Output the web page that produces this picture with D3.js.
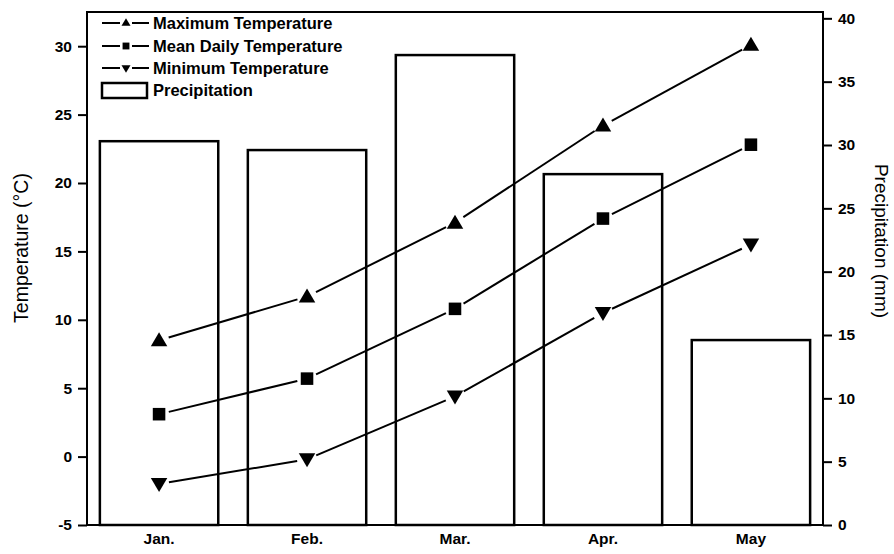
<!DOCTYPE html>
<html>
<head>
<meta charset="utf-8">
<script src="https://cdn.jsdelivr.net/npm/d3@7"></script>
<style>
  body { margin: 0; background: #fff; }
  text { font-family: "Liberation Sans", Arial, sans-serif; fill: #000; }
</style>
</head>
<body>
<svg id="mainSVG" width="894" height="554"></svg>
<script>
// data
const months = ["Jan.", "Feb.", "Mar.", "Apr.", "May"];
const maxTemp = [8.5, 11.7, 17.1, 24.2, 30.1];
const meanTemp = [3.1, 5.7, 10.8, 17.4, 22.8];
const minTemp = [-2.0, -0.2, 4.4, 10.5, 15.5];
const precip = [30.3, 29.6, 37.1, 27.7, 14.6];
const tempTicks = [-5, 0, 5, 10, 15, 20, 25, 30];
const precipTicks = [0, 5, 10, 15, 20, 25, 30, 35, 40];

const svg = d3.select("#mainSVG");
const margin = {top: 12, right: 71, bottom: 29, left: 87};
const W = 894, H = 554;

const x = d3.scaleBand().domain(months)
    .range([margin.left, W - margin.right])
    .paddingInner(0.2).paddingOuter(0.087);
const yT = d3.scaleLinear().domain([-5, 32.5]).range([H - margin.bottom, margin.top]);
const yP = d3.scaleLinear().domain([0, 40.5]).range([H - margin.bottom, margin.top]);

// bars
svg.append("g").selectAll("rect")
    .data(precip)
    .join("rect")
    .attr("x", (d, i) => x(months[i]))
    .attr("y", d => yP(d))
    .attr("width", x.bandwidth())
    .attr("height", d => yP(0) - yP(d))
    .attr("fill", "#fff")
    .attr("stroke", "#000")
    .attr("stroke-width", 2.5);

// lines with small gaps at markers
const series = [
    {name: "Maximum Temperature", values: maxTemp, sym: "up"},
    {name: "Mean Daily Temperature", values: meanTemp, sym: "sq"},
    {name: "Minimum Temperature", values: minTemp, sym: "down"}
];

function marker(g, sym, cx, cy, s) {
    if (sym === "sq") {
        g.append("rect").attr("x", cx - s * 0.38).attr("y", cy - s * 0.38)
            .attr("width", s * 0.76).attr("height", s * 0.76).attr("fill", "#000");
    } else {
        const h = s * 0.85, w = s;
        const pts = sym === "up"
            ? [[cx, cy - h / 2 - 1], [cx - w / 2, cy + h / 2 - 1], [cx + w / 2, cy + h / 2 - 1]]
            : [[cx, cy + h / 2 + 1], [cx - w / 2, cy - h / 2 + 1], [cx + w / 2, cy - h / 2 + 1]];
        g.append("polygon").attr("points", pts.map(p => p.join(",")).join(" ")).attr("fill", "#000");
    }
}

const gap = 10;
series.forEach(s => {
    const g = svg.append("g");
    const pts = s.values.map((v, i) => [x(months[i]) + x.bandwidth() / 2, yT(v)]);
    for (let i = 0; i < pts.length - 1; i++) {
        const [x1, y1] = pts[i], [x2, y2] = pts[i + 1];
        const len = Math.hypot(x2 - x1, y2 - y1);
        const ux = (x2 - x1) / len, uy = (y2 - y1) / len;
        g.append("line")
            .attr("x1", x1 + ux * gap).attr("y1", y1 + uy * gap)
            .attr("x2", x2 - ux * gap).attr("y2", y2 - uy * gap)
            .attr("stroke", "#000").attr("stroke-width", 2);
    }
    pts.forEach(p => marker(g, s.sym, p[0], p[1], 16.5));
});

// frame
svg.append("rect")
    .attr("x", margin.left).attr("y", margin.top)
    .attr("width", W - margin.left - margin.right)
    .attr("height", H - margin.top - margin.bottom)
    .attr("fill", "none").attr("stroke", "#000").attr("stroke-width", 2);

// axes
const fmt = d => String(d);
const leftAxis = svg.append("g")
    .attr("transform", `translate(${margin.left},0)`)
    .call(d3.axisLeft(yT).tickValues(tempTicks).tickFormat(fmt).tickSize(9).tickPadding(6));
const rightAxis = svg.append("g")
    .attr("transform", `translate(${W - margin.right},0)`)
    .call(d3.axisRight(yP).tickValues(precipTicks).tickFormat(fmt).tickSize(9).tickPadding(6));
const bottomAxis = svg.append("g")
    .attr("transform", `translate(0,${H - margin.bottom})`)
    .call(d3.axisBottom(x).tickSize(0).tickPadding(8));

[leftAxis, rightAxis, bottomAxis].forEach(a => {
    a.select(".domain").remove();
    a.selectAll("line").attr("stroke", "#000").attr("stroke-width", 2);
    a.selectAll("text").attr("font-size", 15.5).attr("font-weight", "bold")
        .attr("font-family", "Liberation Sans, Arial, sans-serif").attr("fill", "#000");
});

// axis titles
svg.append("text")
    .attr("transform", "translate(28,248) rotate(-90)")
    .attr("text-anchor", "middle")
    .attr("font-size", 19.5)
    .text("Temperature (°C)");
svg.append("text")
    .attr("transform", "translate(875,241) rotate(90)")
    .attr("text-anchor", "middle")
    .attr("font-size", 19)
    .text("Precipitation (mm)");

// legend
const legend = svg.append("g");
const rowY = [23, 46, 68, 90];
series.forEach((s, i) => {
    legend.append("line").attr("x1", 102).attr("x2", 120)
        .attr("y1", rowY[i]).attr("y2", rowY[i])
        .attr("stroke", "#000").attr("stroke-width", 2);
    legend.append("line").attr("x1", 132).attr("x2", 149)
        .attr("y1", rowY[i]).attr("y2", rowY[i])
        .attr("stroke", "#000").attr("stroke-width", 2);
    marker(legend, s.sym, 126, rowY[i], 9);
    legend.append("text").attr("x", 153).attr("y", rowY[i]).attr("dy", "0.36em")
        .attr("font-size", 16.5).attr("font-weight", "bold").text(s.name);
});
legend.append("rect").attr("x", 102).attr("y", 83).attr("width", 45).attr("height", 15)
    .attr("fill", "#fff").attr("stroke", "#000").attr("stroke-width", 2.5);
legend.append("text").attr("x", 153).attr("y", rowY[3]).attr("dy", "0.36em")
    .attr("font-size", 16.5).attr("font-weight", "bold").text("Precipitation");
</script>
</body>
</html>
